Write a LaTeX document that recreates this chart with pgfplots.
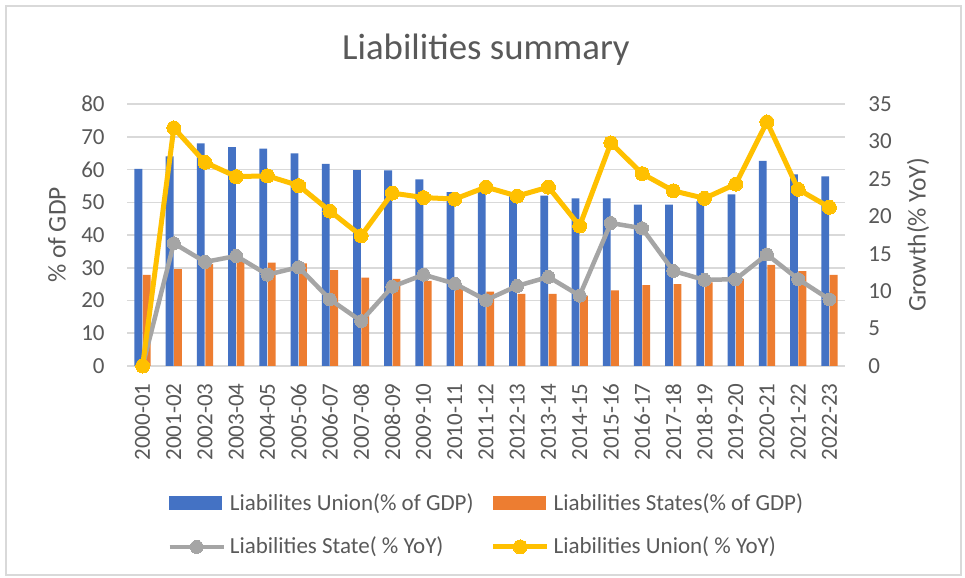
\documentclass[border=0pt]{standalone}
\usepackage{fontspec}
\setmainfont{Carlito}
\usepackage{pgfplots}
\pgfplotsset{compat=1.18}
\definecolor{blueC}{HTML}{4472C4}
\definecolor{orangeC}{HTML}{ED7D31}
\definecolor{grayC}{HTML}{A5A5A5}
\definecolor{yellowC}{HTML}{FFC000}
\definecolor{gridC}{HTML}{D9D9D9}
\definecolor{textC}{HTML}{595959}
\newcommand{\tfont}{\fontsize{11.5bp}{13.8bp}\selectfont}
\pgfplotsset{
  mylinelegend/.style={legend image code/.code={\draw[mark repeat=2,mark phase=2,##1] plot coordinates {(0bp,0bp) (13.5bp,0bp) (27bp,0bp)};}},
  bluelegend/.style={legend image code/.code={\fill[blueC] (0bp,-3.25bp) rectangle (26bp,3.25bp);}},
  orangelegend/.style={legend image code/.code={\fill[orangeC] (0bp,-3.25bp) rectangle (26bp,3.25bp);}},
}
\begin{document}
\begin{tikzpicture}
\path[fill=white] (0,0) rectangle (482.5bp,289bp);
\draw[gridC, line width=0.75bp] (3bp,1.5bp) rectangle (480.5bp,286bp);
\begin{axis}[
  at={(63.5bp,106bp)}, anchor=south west,
  scale only axis, width=359bp, height=131bp,
  xmin=-0.5, xmax=22.5, ymin=0, ymax=80,
  ytick distance=10,
  xtick={0,...,22},
  xticklabels={2000-01,2001-02,2002-03,2003-04,2004-05,2005-06,2006-07,2007-08,2008-09,2009-10,2010-11,2011-12,2012-13,2013-14,2014-15,2015-16,2016-17,2017-18,2018-19,2019-20,2020-21,2021-22,2022-23},
  axis line style={draw=none},
  major tick length=0pt,
  ymajorgrids, grid style={gridC, line width=0.75bp},
  /pgf/number format/assume math mode=true,
  ticklabel style={font=\tfont, text=textC},
  yticklabel style={inner sep=0pt},
  yticklabel shift=11bp,
  xticklabel style={rotate=90, anchor=east, inner sep=0pt},
  xticklabel shift=8.5bp,
  ylabel={\% of GDP},
  ylabel style={at={(axis description cs:-0.0975,0.5)}, anchor=center, font=\fontsize{12.75bp}{15bp}\selectfont, text=textC},
  title={Liabilities summary},
  every axis title shift=0pt,
  title style={at={(axis description cs:0.5,1.206)}, anchor=center, font=\fontsize{18.4bp}{22bp}\selectfont, text=textC},
]
\addplot[ybar, bar width=0.25, bar shift=-0.135, fill=blueC, draw=none] table {
x y
0 60.2
1 64.0
2 68.0
3 66.8
4 66.4
5 64.9
6 61.7
7 59.8
8 59.7
9 57.0
10 53.1
11 53.2
12 51.8
13 52.0
14 51.2
15 51.2
16 49.3
17 49.3
18 50.3
19 52.4
20 62.6
21 58.5
22 57.9
};
\addplot[ybar, bar width=0.25, bar shift=0.135, fill=orangeC, draw=none] table {
x y
0 27.8
1 29.6
2 31.2
3 32.0
4 31.6
5 31.3
6 29.3
7 27.0
8 26.6
9 26.0
10 24.0
11 22.7
12 22.0
13 22.0
14 21.5
15 23.1
16 24.7
17 25.0
18 25.5
19 26.6
20 30.9
21 29.0
22 27.8
};
\end{axis}
\begin{axis}[
  at={(63.5bp,106bp)}, anchor=south west,
  scale only axis, width=359bp, height=131bp,
  xmin=-0.5, xmax=22.5, ymin=0, ymax=35,
  ytick distance=5,
  axis x line=none,
  axis y line*=right,
  axis line style={draw=none},
  major tick length=0pt,
  clip=false,
  /pgf/number format/assume math mode=true,
  ticklabel style={font=\tfont, text=textC},
  yticklabel style={inner sep=0pt},
  yticklabel shift=11.5bp,
  ylabel={Growth(\% YoY)},
  ylabel style={at={(axis description cs:1.1017,0.5)}, anchor=center, font=\fontsize{12.75bp}{15bp}\selectfont, text=textC},
  legend columns=2,
  legend cell align=left,
  legend style={draw=none, fill=none, inner sep=0pt, at={(axis description cs:0.0557,-0.607)}, anchor=west, font=\tfont, text=textC, row sep=8bp, /tikz/every even column/.append style={column sep=6.5bp}},
]
\addlegendimage{bluelegend}
\addlegendentry{Liabilites Union(\% of GDP)}
\addlegendimage{orangelegend}
\addlegendentry{Liabilities States(\% of GDP)}
\addplot[grayC, line width=2.25bp, mark=*, mark size=3.25bp, mark options={fill=grayC, draw=grayC, line width=0pt}, mylinelegend] table {
x y
0 0
1 16.4
2 13.9
3 14.7
4 12.2
5 13.2
6 8.9
7 6.0
8 10.6
9 12.2
10 11.0
11 8.8
12 10.7
13 11.9
14 9.4
15 19.1
16 18.4
17 12.7
18 11.5
19 11.6
20 14.9
21 11.6
22 8.9
};
\addlegendentry{Liabilities State( \% YoY)}
\addplot[yellowC, line width=2.5bp, mark=*, mark size=3.5bp, mark options={fill=yellowC, draw=yellowC, line width=0pt}, mylinelegend] table {
x y
0 0
1 31.8
2 27.2
3 25.3
4 25.4
5 24.1
6 20.7
7 17.4
8 23.1
9 22.5
10 22.3
11 23.9
12 22.7
13 23.9
14 18.7
15 29.8
16 25.7
17 23.4
18 22.4
19 24.3
20 32.6
21 23.6
22 21.2
};
\addlegendentry{Liabilities Union( \% YoY)}
\end{axis}
\pgfresetboundingbox
\path (0,0) rectangle (482.5bp,289bp);
\end{tikzpicture}
\end{document}
